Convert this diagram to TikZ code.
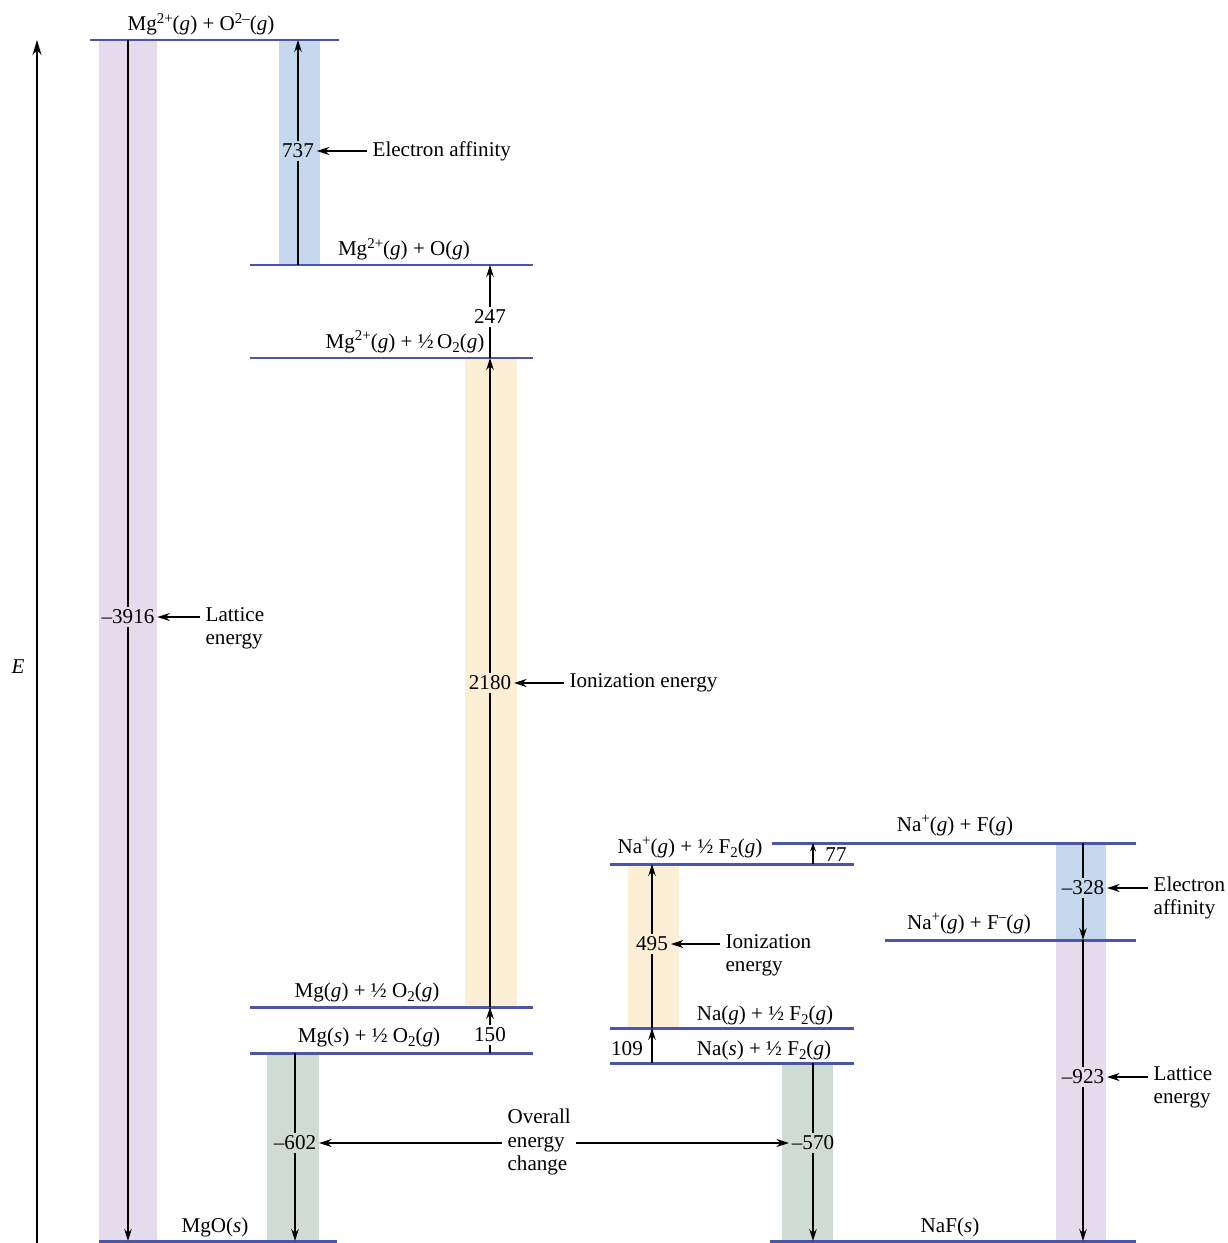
\documentclass[tikz,border=0pt]{standalone}
\usepackage{fontspec}
\setmainfont{Liberation Serif}
\usepackage{xcolor}
\usetikzlibrary{arrows.meta,positioning}
\definecolor{levelBlue}{RGB}{76,86,168}
\definecolor{bandLat}{RGB}{229,219,236}
\definecolor{bandEA}{RGB}{197,216,238}
\definecolor{bandIE}{RGB}{253,239,214}
\definecolor{bandAll}{RGB}{207,220,212}
\newcommand{\chg}[1]{\raisebox{0.8ex}{\fontsize{8.5}{8.5}\selectfont #1}}
\newcommand{\sub}[1]{\raisebox{-0.45ex}{\fontsize{8.5}{8.5}\selectfont #1}}
\tikzset{
  level/.style={draw=levelBlue, line width=1.7pt},
  txt/.style={font=\fontsize{12}{13}\selectfont, inner sep=1pt},
  val/.style={txt, inner sep=1.5pt},
  note/.style={txt, align=left, inner sep=3pt},
  stem/.style={line width=0.65pt},
  arrow/.style={-{Stealth[length=2.4mm,width=1.5mm]}, line width=0.65pt},
  pointer/.style={-{Stealth[length=2.5mm,width=1.6mm]}, line width=0.8pt},
  axis/.style={-{Stealth[length=3mm,width=1.8mm]}, line width=1.1pt}
}

\begin{document}
\begin{tikzpicture}[x=0.02cm, y=-0.02cm]
  \useasboundingbox (0,0) rectangle (1227,1243);
  % bands
  \fill[bandLat] (99,40) rectangle (157,1241);
  \fill[bandEA] (279,40) rectangle (320,265);
  \fill[bandIE] (465,358) rectangle (517,1007);
  \fill[bandAll] (267,1053) rectangle (319,1241);
  \fill[bandIE] (628,864) rectangle (679,1028);
  \fill[bandAll] (782,1063) rectangle (833,1241);
  \fill[bandEA] (1056,843) rectangle (1106,940);
  \fill[bandLat] (1056,940) rectangle (1106,1241);
  % MgO levels
  \draw[level] (90,40) -- (339,40);
  \draw[level] (250,265) -- (533,265);
  \draw[level] (250,358) -- (533,358);
  \draw[level] (250,1007) -- (533,1007);
  \draw[level] (250,1053) -- (533,1053);
  \draw[level] (99,1241) -- (337,1241);
  \node[txt, anchor=base] (mgIons) at (201,31) {Mg\chg{2+}(\textit{g}) + O\chg{2--}(\textit{g})};
  \node[txt, anchor=base] (mgAtom) at (404,256) {Mg\chg{2+}(\textit{g}) + O(\textit{g})};
  \node[txt, anchor=base] (mgCation) at (405,348) {Mg\chg{2+}(\textit{g}) + ½\,O\sub{2}(\textit{g})};
  \node[txt, anchor=base] (mgGas) at (367,997) {Mg(\textit{g}) + ½ O\sub{2}(\textit{g})};
  \node[txt, anchor=base] (mgSolid) at (369,1042) {Mg(\textit{s}) + ½ O\sub{2}(\textit{g})};
  \node[txt, anchor=base] (mgO) at (215,1232) {MgO(\textit{s})};
  % NaF levels
  \draw[level] (610,864) -- (854,864);
  \draw[level] (772,843) -- (1136,843);
  \draw[level] (885,940) -- (1136,940);
  \draw[level] (610,1028) -- (854,1028);
  \draw[level] (610,1063) -- (854,1063);
  \draw[level] (770,1241) -- (1136,1241);
  \node[txt, anchor=base] (naCation) at (690,853) {Na\chg{+}(\textit{g}) + ½ F\sub{2}(\textit{g})};
  \node[txt, anchor=base] (naAtoms) at (955,831) {Na\chg{+}(\textit{g}) + F(\textit{g})};
  \node[txt, anchor=base] (naIons) at (969,929) {Na\chg{+}(\textit{g}) + F\chg{--}(\textit{g})};
  \node[txt, anchor=base] (naGas) at (765,1020) {Na(\textit{g}) + ½ F\sub{2}(\textit{g})};
  \node[txt, anchor=base] (naSolid) at (764,1055) {Na(\textit{s}) + ½ F\sub{2}(\textit{g})};
  \node[txt, anchor=base] (naF) at (950,1232) {NaF(\textit{s})};
  % arrow ends on the levels
  \coordinate (latMgTop) at (128,40);
  \coordinate (latMgBot) at (128,1241);
  \coordinate (eaMgTop) at (298,40);
  \coordinate (eaMgBot) at (298,265);
  \coordinate (dissTop) at (490,265);
  \coordinate (dissBot) at (490,358);
  \coordinate (ieMgTop) at (490,358);
  \coordinate (ieMgBot) at (490,1007);
  \coordinate (subMgTop) at (490,1007);
  \coordinate (subMgBot) at (490,1053);
  \coordinate (allMgTop) at (295,1053);
  \coordinate (allMgBot) at (295,1241);
  \coordinate (subNaBot) at (652,1063);
  \coordinate (subNaTop) at (652,1028);
  \coordinate (ieNaTop) at (652,864);
  \coordinate (dissNaBot) at (813,864);
  \coordinate (dissNaTop) at (813,843);
  \coordinate (eaNaTop) at (1083,843);
  \coordinate (eaNaBot) at (1083,940);
  \coordinate (latNaBot) at (1083,1241);
  \coordinate (allNaTop) at (813,1063);
  \coordinate (allNaBot) at (813,1241);
  % values
  \node[val] (latMg) at (128,617) {--3916};
  \node[val] (eaMg) at (298,151) {737};
  \node[val] (dissMg) at (490,317) {247};
  \node[val] (ieMg) at (490,683) {2180};
  \node[val] (subMg) at (490,1035) {150};
  \node[val] (allMg) at (295,1143) {--602};
  \node[val] (subNa) at (627,1049) {109};
  \node[val] (ieNa) at (652,944) {495};
  \node[val] (dissNa) at (836,855) {77};
  \node[val] (eaNa) at (1083,888) {--328};
  \node[val] (latNa) at (1083,1077) {--923};
  \node[val] (allNa) at (813,1143) {--570};
  \draw[stem] (latMgTop) -- (latMg);
  \draw[arrow] (latMg) -- (latMgBot);
  \draw[stem] (eaMgBot) -- (eaMg);
  \draw[arrow] (eaMg) -- (eaMgTop);
  \draw[stem] (dissBot) -- (dissMg);
  \draw[arrow] (dissMg) -- (dissTop);
  \draw[stem] (ieMgBot) -- (ieMg);
  \draw[arrow] (ieMg) -- (ieMgTop);
  \draw[stem] (subMgBot) -- (subMg);
  \draw[arrow] (subMg) -- (subMgTop);
  \draw[stem] (allMgTop) -- (allMg);
  \draw[arrow] (allMg) -- (allMgBot);
  \draw[arrow] (subNaBot) -- (subNaTop);
  \draw[stem] (subNaTop) -- (ieNa);
  \draw[arrow] (ieNa) -- (ieNaTop);
  \draw[arrow, -{Stealth[length=1.7mm,width=1.2mm]}] (dissNaBot) -- (dissNaTop);
  \draw[stem] (eaNaTop) -- (eaNa);
  \draw[arrow] (eaNa) -- (eaNaBot);
  \draw[stem] (eaNaBot) -- (latNa);
  \draw[arrow] (latNa) -- (latNaBot);
  \draw[stem] (allNaTop) -- (allNa);
  \draw[arrow] (allNa) -- (allNaBot);
  % notes
  \node[note, anchor=west] (latMgNote) at (200,628) {Lattice\\energy};
  \node[note, anchor=west] (eaMgNote) at (367,151) {Electron affinity};
  \node[note, anchor=west] (ieMgNote) at (564,683) {Ionization energy};
  \node[note, anchor=west] (ieNaNote) at (720,955) {Ionization\\energy};
  \node[note, anchor=west] (eaNaNote) at (1148,898) {Electron\\affinity};
  \node[note, anchor=west] (latNaNote) at (1148,1087) {Lattice\\energy};
  \node[note, anchor=west, font=\fontsize{12}{13.5}\selectfont] (allNote) at (502,1142) {Overall\\energy\\change};
  \draw[pointer] (latMgNote.west |- latMg) -- (latMg);
  \draw[pointer] (eaMgNote) -- (eaMg);
  \draw[pointer] (ieMgNote) -- (ieMg);
  \draw[pointer] (ieNaNote.west |- ieNa) -- (ieNa);
  \draw[pointer] (eaNaNote.west |- eaNa) -- (eaNa);
  \draw[pointer] (latNaNote.west |- latNa) -- (latNa);
  \draw[pointer] (allNote.west |- allMg) -- (allMg);
  \draw[pointer] (allNote.east |- allNa) -- (allNa);
  % energy axis
  \coordinate (eBot) at (37,1243);
  \coordinate (eTop) at (37,40);
  \draw[axis] (eBot) -- (eTop);
  \node[txt] (eLab) at (18,667) {\textit{E}};
\end{tikzpicture}
\end{document}
